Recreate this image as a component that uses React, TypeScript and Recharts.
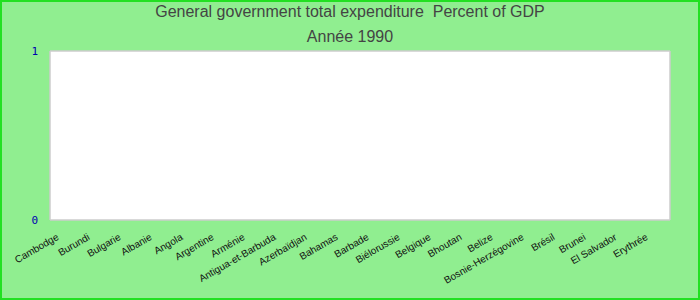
import { BarChart, Bar, XAxis, YAxis, CartesianGrid } from "recharts";

const countries = [
  "Cambodge", "Burundi", "Bulgarie", "Albanie", "Angola", "Argentine", "Arménie",
  "Antigua-et-Barbuda", "Azerbaïdjan", "Bahamas", "Barbade", "Biélorussie", "Belgique",
  "Bhoutan", "Belize", "Bosnie-Herzégovine", "Brésil", "Brunei", "El Salvador", "Erythrée",
];
// no value available for 1990
const expenditure: (number | null)[] = [
  null, null, null, null, null, null, null, null, null, null,
  null, null, null, null, null, null, null, null, null, null,
];
const yTicks = [0, 1];

const data = countries.map((c, i) => ({ country: c, value: expenditure[i] }));

const font = "'Liberation Sans', Arial, sans-serif";

const CountryTick = ({ x, y, payload }: any) => {
  const ax = x - 6;
  const ay = y + 19;
  return (
    <text x={ax} y={ay} transform={`rotate(-30, ${ax}, ${ay})`} textAnchor="end"
      fontSize={10} fontFamily={font} fill="#111">
      {payload.value}
    </text>
  );
};

// frame the plot area: left and right edges of the grid
const plotEdges = ({ offset }: any) => [offset.left, offset.left + offset.width];

export default function App() {
  return (
    <div style={{ position: "absolute", left: 0, top: 0, width: 700, height: 300, background: "#90ee90", fontFamily: font }}>
      <div style={{ position: "absolute", top: 3, width: 700, textAlign: "center", fontSize: 16, color: "#444" }}>
        General government total expenditure&nbsp; Percent of GDP
      </div>
      <div style={{ position: "absolute", top: 28, width: 700, textAlign: "center", fontSize: 16, color: "#444" }}>
        Année 1990
      </div>
      <BarChart width={700} height={300} data={data} margin={{ top: 51, right: 30, bottom: 0, left: 0 }}>
        <CartesianGrid fill="#ffffff" stroke="#cccccc" strokeWidth={1.5}
          verticalCoordinatesGenerator={plotEdges} />
        <XAxis dataKey="country" height={80} interval={0} tickSize={0} tickMargin={0}
          tick={<CountryTick />} axisLine={false} />
        <YAxis type="number" domain={[0, 1]} allowDataOverflow ticks={yTicks} width={50}
          tickSize={0} tickMargin={12} axisLine={false}
          tick={{ fill: "#0000b0", fontSize: 11, fontFamily: "'DejaVu Sans Mono', monospace" }} />
        <Bar dataKey="value" fill="#4472c4" isAnimationActive={false} />
      </BarChart>
      <div style={{ position: "absolute", left: 0, top: 0, width: 700, height: 300, boxSizing: "border-box", border: "2px solid #22e022", pointerEvents: "none" }} />
    </div>
  );
}
